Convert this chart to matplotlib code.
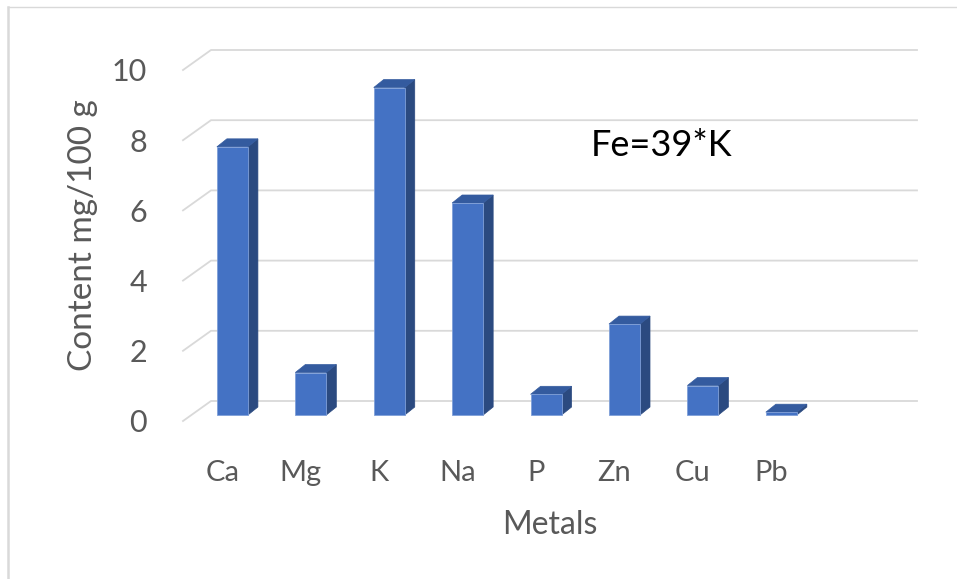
import matplotlib
matplotlib.use("Agg")
from matplotlib import pyplot as plt
from matplotlib.patches import Polygon
import numpy as np

# metal content, mg/100 g
metals = ["Ca", "Mg", "K", "Na", "P", "Zn", "Cu", "Pb"]
content = [7.64, 1.21, 9.33, 6.04, 0.59, 2.59, 0.84, 0.08]
yticks = [0, 2, 4, 6, 8, 10]
note = "Fe=39*K"

plt.rcParams['font.family'] = ['Lato', 'DejaVu Sans']

W, H = 957, 579
fig = plt.figure(figsize=(W / 100, H / 100), dpi=100)

# plot area in pixels: front-left corner of the floor and the right end of the back wall
px_left, px_right, px_floor = 183, 917, 421
px_per_cat, px_per_unit = 78.4, 35.1
n_slots = 9.36
ytop = 10.6
ax = fig.add_axes([px_left / W, (H - px_floor) / H,
                   (px_right - px_left) / W, ytop * px_per_unit / H])
ax.set_xlim(0, n_slots)
ax.set_ylim(0, ytop)
for s in ax.spines.values():
    s.set_visible(False)

# oblique depth of the back wall and of each column
wall_dx, wall_dy = 28 / px_per_cat, 20 / px_per_unit
face_dx, face_dy = 0.13, 6 / px_per_unit
bar_dx, bar_dy = 10 / px_per_cat, 8 / px_per_unit
bar_w = 31 / px_per_cat

grid_c = '#d9d9d9'
for v in yticks:
    ax.plot([0, wall_dx, n_slots], [v, v + wall_dy, v + wall_dy],
            color=grid_c, lw=1.3, clip_on=False, zorder=1)

front_c, top_c, side_c = '#4472C4', '#345B9F', '#2B4A80'
for i, val in enumerate(content):
    x0 = i + 0.5 + face_dx - bar_w / 2
    x1 = x0 + bar_w
    y0 = face_dy
    y1 = face_dy + val
    side = Polygon([(x1, y0), (x1 + bar_dx, y0 + bar_dy), (x1 + bar_dx, y1 + bar_dy), (x1, y1)],
                   closed=True, fc=side_c, ec=side_c, lw=0.5, zorder=3, clip_on=False)
    top = Polygon([(x0, y1), (x1, y1), (x1 + bar_dx, y1 + bar_dy), (x0 + bar_dx, y1 + bar_dy)],
                  closed=True, fc=top_c, ec=top_c, lw=0.5, zorder=3, clip_on=False)
    front = Polygon([(x0, y0), (x1, y0), (x1, y1), (x0, y1)],
                    closed=True, fc=front_c, ec='#7f9fd8', lw=0.6, zorder=4, clip_on=False)
    ax.add_patch(side)
    ax.add_patch(top)
    ax.add_patch(front)

tick_c = '#595959'
ax.set_yticks(yticks)
ax.set_yticklabels([str(v) for v in yticks], fontsize=22, color=tick_c)
ax.set_xticks(np.arange(len(metals)) + 0.5)
ax.set_xticklabels(metals, fontsize=21, color=tick_c)
ax.tick_params(axis='y', length=0, pad=26)
ax.tick_params(axis='x', length=0, pad=28)

ax.set_ylabel("Content mg/100 g", fontsize=24, color=tick_c, labelpad=10)
ax.set_xlabel("Metals", fontsize=23, color=tick_c, labelpad=17)

ax.text(5.2, 7.85, note, fontsize=26, color='black', ha='left', va='center')

# light chart border on the left and top
fig.add_artist(plt.Line2D([8 / W, 8 / W], [0, 1 - 7 / H], color=grid_c, lw=1.8))
fig.add_artist(plt.Line2D([8 / W, 1], [1 - 7 / H, 1 - 7 / H], color=grid_c, lw=1.0))

plt.savefig("out.png", dpi=100)
